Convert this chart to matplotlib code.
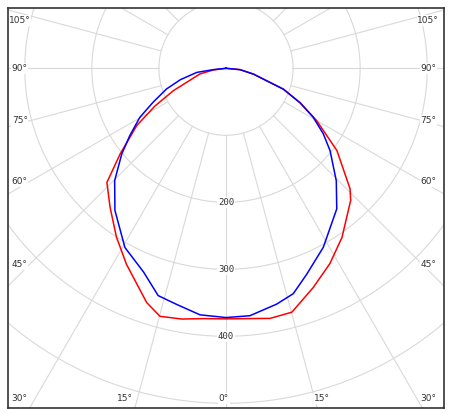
import numpy as np
import matplotlib
matplotlib.use("Agg")
import matplotlib.pyplot as plt

# luminous intensity (cd); angle from nadir, negative = left side
red_ang = [-90, -82.5, -77.7, -70.4, -67, -62, -57.3, -51, -46.2, -39.8, -33, -26.9, -18.7, -14.9, -10, -5,
           0, 5, 10, 15.1, 21.7, 28, 34.4, 43.3, 45.8, 53.4, 60, 65, 70, 73, 78, 84.5, 90]
red_val = [0, 19, 40, 62, 85, 120, 158, 203, 246, 270, 300, 328, 369, 383, 380, 375,
           374, 375, 379, 377, 352, 330, 306, 271, 258, 206, 156, 122, 91, 63, 42, 21, 0]
blue_ang = [-90, -84, -82, -76, -70.8, -65, -60.3, -55, -50.6, -44.7, -38, -29.4, -22, -16.6, -11.8, -6,
            0, 5.5, 12.1, 16.6, 21.4, 28.5, 38.2, 44.4, 51.6, 56, 60.7, 65, 70, 73, 78, 84.5, 90]
blue_val = [0, 19, 44, 70, 94, 120, 148, 175, 201, 236, 269, 307, 328, 354, 360, 370,
            372, 371, 360, 351, 330, 304, 267, 235, 198, 175, 149, 122, 91, 63, 42, 21, 0]

rings = [100, 200, 300, 400, 500, 600, 700]
ring_labels = ["200", "300", "400"]
angle_labels = ["105°", "90°", "75°", "60°", "45°", "30°"]
bottom_labels = ["15°", "0°", "15°"]

SC = 0.67  # px per cd
CX, CY = 226, 68


def px(x, y):
    return (x - CX) / SC, (y - CY) / SC


fig = plt.figure(figsize=(4.5, 4.13), dpi=100)
ax = fig.add_axes([8 / 450, 5 / 413, 436 / 450, 400 / 413])
ax.set_xlim(-325, 325)
ax.set_ylim(507, -90)
ax.set_xticks([])
ax.set_yticks([])
for s in ax.spines.values():
    s.set_color("#333333")
    s.set_linewidth(1.2)

grid = "#d9d9d9"
t = np.linspace(0, 2 * np.pi, 400)
for r in rings:
    ax.plot(r * np.cos(t), r * np.sin(t), color=grid, lw=0.8, zorder=1)
for a in range(0, 360, 15):
    ar = np.radians(a)
    ax.plot([100 * np.sin(ar), 900 * np.sin(ar)], [100 * np.cos(ar), 900 * np.cos(ar)],
            color=grid, lw=0.8, zorder=1)

for lab in ring_labels:
    ax.text(0, int(lab), lab, ha="center", va="center", fontsize=6.5, color="#333333",
            family="DejaVu Sans Mono",
            bbox=dict(facecolor="white", edgecolor="none", pad=0.5), zorder=2)

ys = [20, 68, 120, 181, 264, 398]
for lab, y in zip(angle_labels, ys):
    ax.text(*px(20, y), lab, ha="center", va="center", fontsize=6.5, color="#333333",
            bbox=dict(facecolor="white", edgecolor="none", pad=0.5), zorder=2)
    ax.text(*px(428, y), lab, ha="center", va="center", fontsize=6.5, color="#333333",
            bbox=dict(facecolor="white", edgecolor="none", pad=0.5), zorder=2)
for lab, x in zip(bottom_labels, [125, 224, 322]):
    ax.text(*px(x, 398), lab, ha="center", va="center", fontsize=6.5, color="#333333",
            bbox=dict(facecolor="white", edgecolor="none", pad=0.5), zorder=2)

ra = np.radians(red_ang)
ax.plot(np.array(red_val) * np.sin(ra), np.array(red_val) * np.cos(ra), color="red", lw=1.1, zorder=3)
ba = np.radians(blue_ang)
ax.plot(np.array(blue_val) * np.sin(ba), np.array(blue_val) * np.cos(ba), color="blue", lw=1.1, zorder=4)

fig.savefig("out.png", dpi=100)
